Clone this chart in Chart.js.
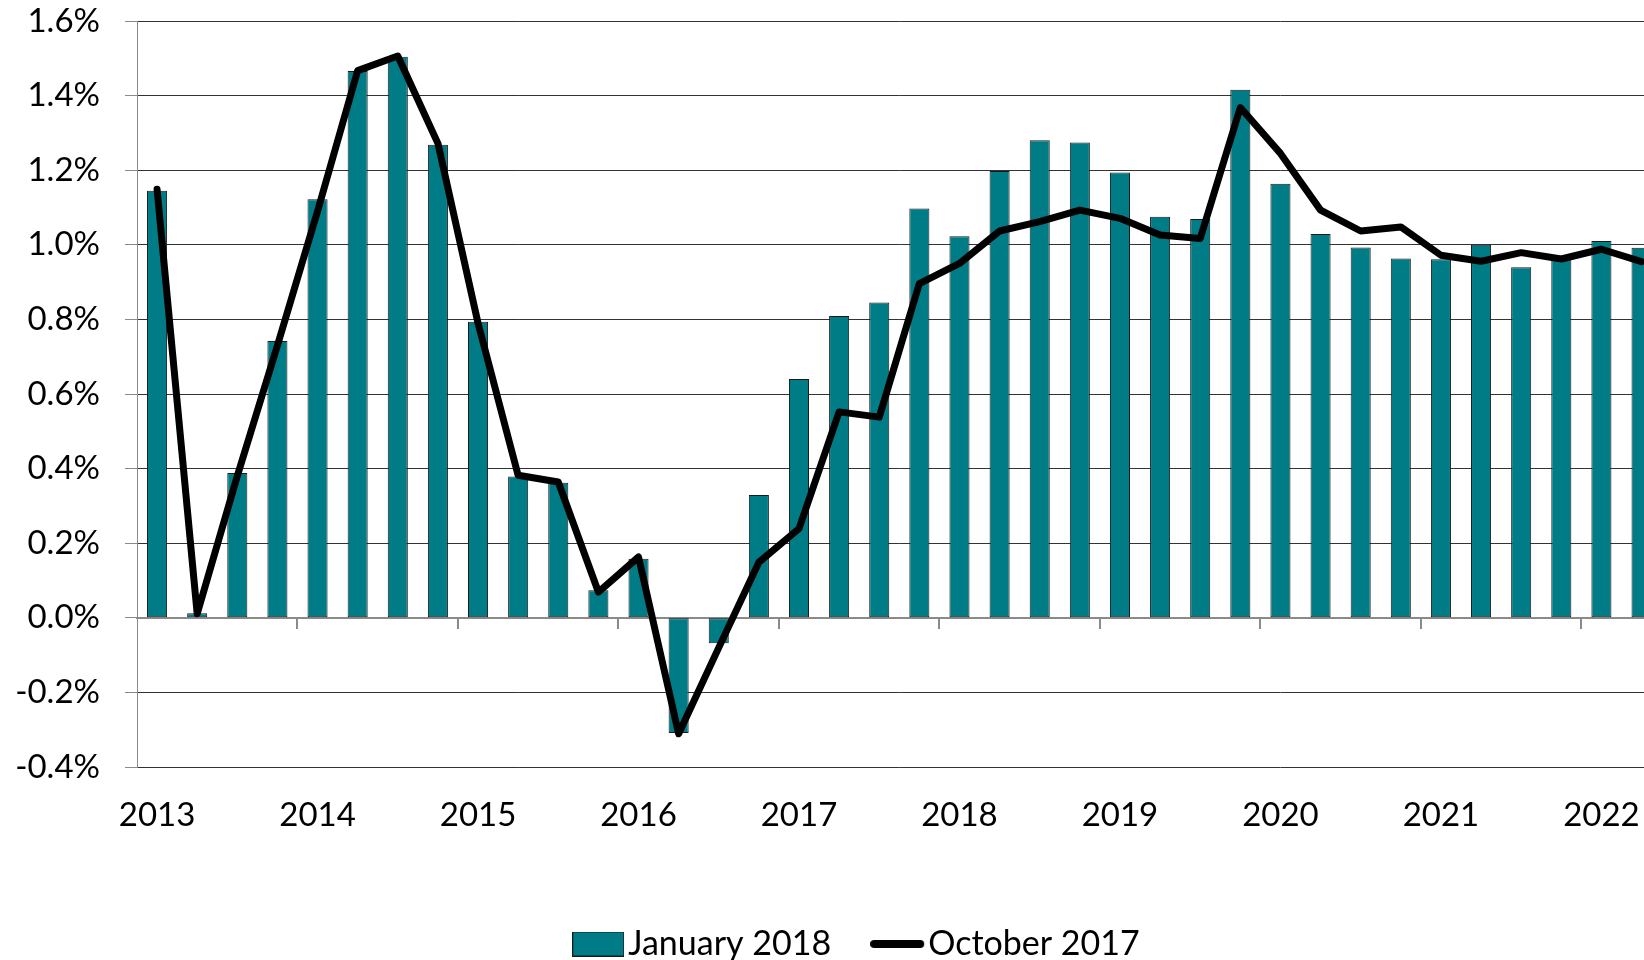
<!DOCTYPE html>
<html>
<head>
<meta charset="utf-8">
<script src="https://cdn.jsdelivr.net/npm/chart.js@4/dist/chart.umd.min.js"></script>
<style>
  html, body { margin: 0; padding: 0; background: #fff; overflow: hidden; width: 1644px; height: 960px; }
  #wrap { position: absolute; left: 0; top: 0; }
</style>
</head>
<body>
<div id="wrap"><canvas id="c" width="1725" height="971"></canvas></div>
<script>
// ---- data ----
const categories = [
  '2013 Q1','2013 Q2','2013 Q3','2013 Q4',
  '2014 Q1','2014 Q2','2014 Q3','2014 Q4',
  '2015 Q1','2015 Q2','2015 Q3','2015 Q4',
  '2016 Q1','2016 Q2','2016 Q3','2016 Q4',
  '2017 Q1','2017 Q2','2017 Q3','2017 Q4',
  '2018 Q1','2018 Q2','2018 Q3','2018 Q4',
  '2019 Q1','2019 Q2','2019 Q3','2019 Q4',
  '2020 Q1','2020 Q2','2020 Q3','2020 Q4',
  '2021 Q1','2021 Q2','2021 Q3','2021 Q4',
  '2022 Q1','2022 Q2'
];
const january2018 = [
  1.145, 0.012, 0.388, 0.742,
  1.122, 1.466, 1.504, 1.268,
  0.794, 0.379, 0.362, 0.074,
  0.158, -0.309, -0.068, 0.329,
  0.640, 0.809, 0.845, 1.097,
  1.023, 1.198, 1.280, 1.274,
  1.194, 1.075, 1.069, 1.416,
  1.164, 1.029, 0.993, 0.963,
  0.961, 1.000, 0.940, 0.966,
  1.010, 0.992
];
const october2017 = [
  1.149, 0.011, 0.38, 0.73,
  1.09, 1.467, 1.506, 1.272,
  0.79, 0.382, 0.364, 0.069,
  0.163, -0.311, -0.08, 0.149,
  0.239, 0.552, 0.538, 0.896,
  0.950, 1.037, 1.062, 1.093,
  1.071, 1.026, 1.017, 1.368,
  1.245, 1.093, 1.037, 1.048,
  0.972, 0.956, 0.979, 0.962,
  0.988, 0.955
];
const seriesNames = ['January 2018', 'October 2017'];
const yTicks = { min: -0.4, max: 1.6, step: 0.2 };

// ---- styles ----
const TEAL = '#007C87';
const BAR_BORDER = '#1a1a1a';
const FONT = 'Lato';
const FS = 33;       // tick labels
const LFS = 34;      // legend labels

// legend swatches
function makeBarSwatch() {
  const c = document.createElement('canvas');
  c.width = 52; c.height = 25;
  const g = c.getContext('2d');
  g.fillStyle = TEAL; g.fillRect(0, 0, 52, 25);
  g.strokeStyle = BAR_BORDER; g.lineWidth = 1; g.strokeRect(0.5, 0.5, 51, 24);
  return c;
}
function makeLineSwatch() {
  const c = document.createElement('canvas');
  c.width = 56; c.height = 12;
  const g = c.getContext('2d');
  g.strokeStyle = '#000'; g.lineWidth = 8; g.lineCap = 'round';
  g.beginPath(); g.moveTo(4, 6); g.lineTo(50, 6); g.stroke();
  return c;
}
const barSwatch = makeBarSwatch();
const lineSwatch = makeLineSwatch();

Chart.defaults.font.family = FONT;
Chart.defaults.font.size = FS;
Chart.defaults.color = '#000';

new Chart(document.getElementById('c'), {
  type: 'bar',
  data: {
    labels: categories,
    datasets: [
      {
        type: 'bar',
        label: seriesNames[0],
        data: january2018,
        backgroundColor: TEAL,
        borderColor: BAR_BORDER,
        borderWidth: 1,
        borderSkipped: false,
        barPercentage: 0.5,
        categoryPercentage: 1.0,
        order: 2,
        xAxisID: 'x',
        yAxisID: 'y'
      },
      {
        type: 'line',
        label: seriesNames[1],
        data: october2017,
        borderColor: '#000',
        backgroundColor: '#000',
        borderWidth: 7,
        borderCapStyle: 'round',
        borderJoinStyle: 'round',
        pointRadius: 0,
        tension: 0,
        fill: false,
        order: 1,
        xAxisID: 'x',
        yAxisID: 'y'
      }
    ]
  },
  options: {
    responsive: false,
    animation: false,
    devicePixelRatio: 1,
    layout: { padding: { left: 0, top: 21, right: 0, bottom: 0 } },
    plugins: {
      tooltip: { enabled: false },
      legend: {
        position: 'bottom',
        labels: {
          font: { family: FONT, size: LFS },
          color: '#000',
          usePointStyle: true,
          pointStyleWidth: 60 - LFS,
          boxHeight: 25,
          padding: 54,
          generateLabels(chart) {
            const items = Chart.defaults.plugins.legend.labels.generateLabels(chart)
              .sort((a, b) => a.datasetIndex - b.datasetIndex);
            items.forEach(it => { it.pointStyle = it.datasetIndex === 0 ? barSwatch : lineSwatch; });
            return items;
          }
        }
      }
    },
    scales: {
      x: {
        type: 'category',
        position: 'bottom',
        offset: true,
        grid: { display: false, drawTicks: false },
        border: { display: false },
        ticks: {
          autoSkip: false,
          maxRotation: 0,
          padding: 29,
          font: { family: FONT, size: FS },
          color: '#000',
          callback(v) {
            const l = this.getLabelForValue(v);
            return l.endsWith('Q1') ? l.slice(0, 4) : '';
          }
        },
        afterFit(s) { s.height = 106; }
      },
      xz: {
        type: 'category',
        position: { y: 0 },
        offset: true,
        grid: {
          offset: true,
          drawOnChartArea: false,
          drawTicks: true,
          tickLength: 10,
          lineWidth: 2,
          color: (ctx) => (ctx.index > 0 && ctx.index < categories.length && ctx.index % 4 === 0) ? '#8a8a8a' : 'rgba(0,0,0,0)',
          tickColor: (ctx) => (ctx.index > 0 && ctx.index < categories.length && ctx.index % 4 === 0) ? '#8a8a8a' : 'rgba(0,0,0,0)'
        },
        border: { display: true, color: '#8a8a8a', width: 2 },
        ticks: { display: false, autoSkip: false }
      },
      y: {
        type: 'linear',
        position: 'left',
        min: yTicks.min,
        max: yTicks.max,
        ticks: {
          stepSize: yTicks.step,
          padding: 25,
          font: { family: FONT, size: FS },
          color: '#000',
          callback: (v) => (Math.round(v * 10) / 10 + 0).toFixed(1) + '%'
        },
        grid: {
          drawTicks: true,
          tickLength: 12,
          lineWidth: 1,
          color: (ctx) => (ctx.tick && Math.abs(ctx.tick.value) < 1e-9) ? 'rgba(0,0,0,0)' : '#333333',
          tickColor: '#8a8a8a'
        },
        border: { display: true, color: '#8a8a8a', width: 1 },
        afterFit(s) { s.width = 137; s.paddingTop = 0; s.paddingBottom = 0; }
      },
      // empty spacer on the right (the original plot runs past the picture edge)
      yr: {
        type: 'linear',
        position: 'right',
        min: yTicks.min,
        max: yTicks.max,
        grid: { display: false, drawTicks: false },
        border: { display: false },
        ticks: { display: false },
        afterFit(s) { s.width = 63.4; s.paddingTop = 0; s.paddingBottom = 0; }
      }
    }
  }
});
</script>
</body>
</html>
